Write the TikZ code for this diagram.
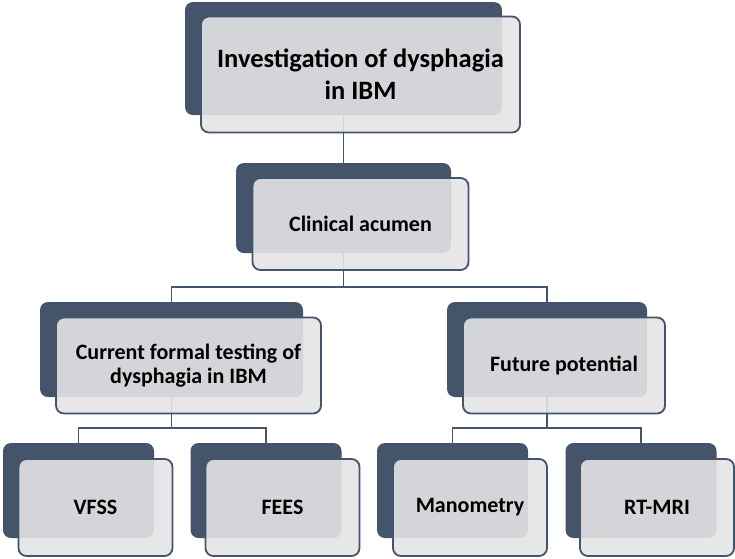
\documentclass[tikz,border=0pt]{standalone}
\usepackage{fontspec}
\setmainfont{Carlito}
\definecolor{dk}{HTML}{44546A}
\definecolor{lt}{RGB}{228,228,229}
\tikzset{
  back/.style={fill=dk, draw=none, rounded corners=8pt, inner sep=0pt},
  front/.style={fill=lt, fill opacity=0.9, text opacity=1, draw=dk, draw opacity=1,
    line width=1.8pt, rounded corners=8pt, inner sep=0pt, align=center,
    font=\bfseries\fontsize{22}{24}\selectfont},
  bigtext/.style={font=\bfseries\fontsize{26.5}{32}\selectfont},
  link/.style={draw=dk, line width=1.7pt},
}
\begin{document}
\begin{tikzpicture}[x=1pt,y=-1pt]
\useasboundingbox (0,0) rectangle (735,558);
% back boxes
\node[back, minimum width=317pt, minimum height=113pt] (top-b) at (343.5,58.5) {};
\node[back, minimum width=215pt, minimum height=90pt] (clin-b) at (343.5,208) {};
\node[back, minimum width=263pt, minimum height=95pt] (cur-b) at (171.5,349.5) {};
\node[back, minimum width=200pt, minimum height=95pt] (fut-b) at (547,349.5) {};
\node[back, minimum width=151pt, minimum height=95pt] (vfss-b) at (78.5,490.5) {};
\node[back, minimum width=151pt, minimum height=95pt] (fees-b) at (266,490.5) {};
\node[back, minimum width=151pt, minimum height=95pt] (mano-b) at (452.5,490.5) {};
\node[back, minimum width=151pt, minimum height=95pt] (rt-b) at (641,490.5) {};
% connectors
\draw[link] (top-b.south) -- (clin-b.north);
\draw[link] (clin-b.south) -- ++(0,34) coordinate (j1);
\draw[link] (j1) -| (cur-b.north);
\draw[link] (j1) -| (fut-b.north);
\draw[link] (cur-b.south) -- ++(0,31) coordinate (j2);
\draw[link] (j2) -| (vfss-b.north);
\draw[link] (j2) -| (fees-b.north);
\draw[link] (fut-b.south) -- ++(0,31) coordinate (j3);
\draw[link] (j3) -| (mano-b.north);
\draw[link] (j3) -| (rt-b.north);
% front boxes
\node[front, bigtext, minimum width=319pt, minimum height=116pt] (top) at (360.5,74.5) {Investigation of dysphagia\\in IBM};
\node[front, minimum width=216pt, minimum height=92pt] (clin) at (360.5,224) {Clinical acumen};
\node[front, minimum width=265pt, minimum height=96pt] (cur) at (188.5,365.5) {Current formal testing of\\dysphagia in IBM};
\node[front, minimum width=202pt, minimum height=96pt] (fut) at (564,365.5) {Future potential};
\node[front, minimum width=154pt, minimum height=97pt] (vfss) at (95.5,507.5) {VFSS};
\node[front, minimum width=154pt, minimum height=97pt] (fees) at (282.5,507.5) {FEES};
\node[front, minimum width=154pt, minimum height=97pt] (mano) at (470,507.5) {Manometry};
\node[front, minimum width=154pt, minimum height=97pt] (rt) at (657,507.5) {RT-MRI};
\end{tikzpicture}
\end{document}
